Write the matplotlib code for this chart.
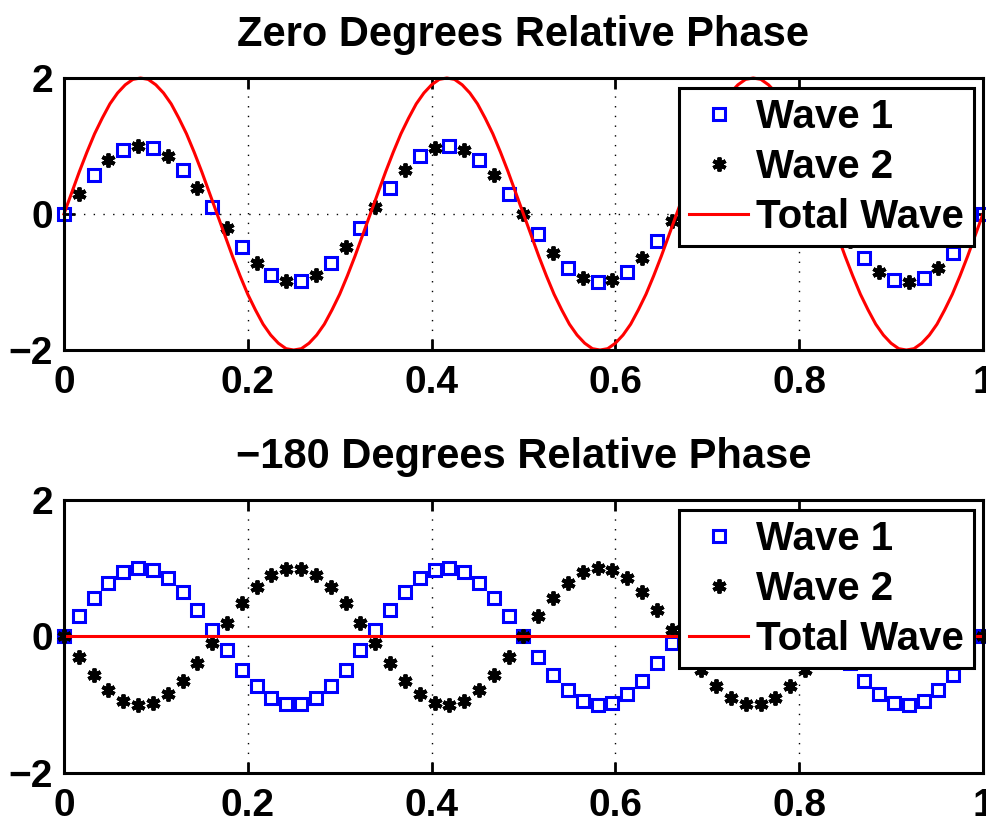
import numpy as np
import matplotlib
matplotlib.use("Agg")
import matplotlib.pyplot as plt

# sample times for the markers (63 points) and the red curve (121 points)
t = np.linspace(0, 1, 63)
t_fine = np.linspace(0, 1, 121)

# wave values (3 cycles over the window)
wave1 = [0.00, 0.30, 0.57, 0.79, 0.94, 1.00, 0.97, 0.85, 0.65, 0.39,
         0.10, -0.20, -0.49, -0.72, -0.90, -0.99, -0.99, -0.90, -0.72, -0.49,
         -0.20, 0.10, 0.39, 0.65, 0.85, 0.97, 1.00, 0.94, 0.79, 0.57,
         0.30, 0.00, -0.30, -0.57, -0.79, -0.94, -1.00, -0.97, -0.85, -0.65,
         -0.39, -0.10, 0.20, 0.49, 0.72, 0.90, 0.99, 0.99, 0.90, 0.72,
         0.49, 0.20, -0.10, -0.39, -0.65, -0.85, -0.97, -1.00, -0.94, -0.79,
         -0.57, -0.30, 0.00]
wave2_zero = list(wave1)
wave2_180 = [-v for v in wave1]

# total wave, zero phase (amplitude 2)
total_zero = [0.00, 0.31, 0.62, 0.91, 1.18, 1.41, 1.62, 1.78, 1.90, 1.98,
              2.00, 1.98, 1.90, 1.78, 1.62, 1.41, 1.18, 0.91, 0.62, 0.31,
              0.00, -0.31, -0.62, -0.91, -1.18, -1.41, -1.62, -1.78, -1.90, -1.98,
              -2.00, -1.98, -1.90, -1.78, -1.62, -1.41, -1.18, -0.91, -0.62, -0.31,
              0.00, 0.31, 0.62, 0.91, 1.18, 1.41, 1.62, 1.78, 1.90, 1.98,
              2.00, 1.98, 1.90, 1.78, 1.62, 1.41, 1.18, 0.91, 0.62, 0.31,
              0.00, -0.31, -0.62, -0.91, -1.18, -1.41, -1.62, -1.78, -1.90, -1.98,
              -2.00, -1.98, -1.90, -1.78, -1.62, -1.41, -1.18, -0.91, -0.62, -0.31,
              0.00, 0.31, 0.62, 0.91, 1.18, 1.41, 1.62, 1.78, 1.90, 1.98,
              2.00, 1.98, 1.90, 1.78, 1.62, 1.41, 1.18, 0.91, 0.62, 0.31,
              0.00, -0.31, -0.62, -0.91, -1.18, -1.41, -1.62, -1.78, -1.90, -1.98,
              -2.00, -1.98, -1.90, -1.78, -1.62, -1.41, -1.18, -0.91, -0.62, -0.31,
              0.00]
# total wave, -180 phase: the two waves cancel
total_180 = [0.0] * 121

titles = ["Zero Degrees Relative Phase", "\u2212180 Degrees Relative Phase"]
xticks = [0, 0.2, 0.4, 0.6, 0.8, 1]
xlabels = ["0", "0.2", "0.4", "0.6", "0.8", "1"]
yticks = [-2, 0, 2]
ylabels = ["\u22122", "0", "2"]

plt.rcParams['font.family'] = ['Liberation Sans', 'DejaVu Sans']
plt.rcParams['font.weight'] = 'bold'

fig = plt.figure(figsize=(9.87, 8.23), dpi=100)
ax1 = fig.add_axes([0.0648, 0.5747, 0.9311, 0.3305])
ax2 = fig.add_axes([0.0648, 0.0608, 0.9311, 0.3317])

asterisk = (6, 2, 0)


def style_axes(ax, title):
    ax.set_xlim(0, 1)
    ax.set_ylim(-2, 2)
    ax.set_xticks(xticks)
    ax.set_xticklabels(xlabels)
    ax.set_yticks(yticks)
    ax.set_yticklabels(ylabels)
    ax.tick_params(direction='in', length=8, width=2, top=True, right=True,
                   labelsize=28, pad=8)
    ax.tick_params(axis='x', pad=11)
    for s in ax.spines.values():
        s.set_linewidth(2.2)
    ax.grid(True, color='black', linestyle=(0, (1, 6)), linewidth=1)
    ax.set_axisbelow(True)
    ax.set_title(title, fontsize=30, fontweight='bold', pad=23)


def draw(ax, x1, y1, x2, y2, tt, total):
    ax.plot(x1, y1, linestyle='none', marker='s', markersize=8.5,
            markerfacecolor='none', markeredgecolor='blue',
            markeredgewidth=2.2, label='Wave 1', clip_on=False)
    ax.plot(x2, y2, linestyle='none', marker=asterisk, markersize=10,
            markerfacecolor='black', markeredgecolor='black',
            markeredgewidth=2.8, label='Wave 2', clip_on=False)
    ax.plot(tt, total, color='red', linewidth=2.2, label='Total Wave',
            clip_on=False)
    leg = ax.legend(loc='upper right', bbox_to_anchor=(0.99, 0.963),
                    borderaxespad=0, fontsize=29, handlelength=1.45,
                    handletextpad=0.2, labelspacing=0.3, borderpad=0.25,
                    fancybox=False, framealpha=1, edgecolor='black')
    leg.get_frame().set_linewidth(2.2)


# top: zero phase, markers alternate along the same curve
w1 = np.array(wave1)
w2z = np.array(wave2_zero)
draw(ax1, t[0::2], w1[0::2], t[1::2], w2z[1::2], t_fine, total_zero)
style_axes(ax1, titles[0])

# bottom: -180 phase
w2h = np.array(wave2_180)
draw(ax2, t, w1, t, w2h, t_fine, total_180)
style_axes(ax2, titles[1])

fig.savefig("out.png", dpi=100)
